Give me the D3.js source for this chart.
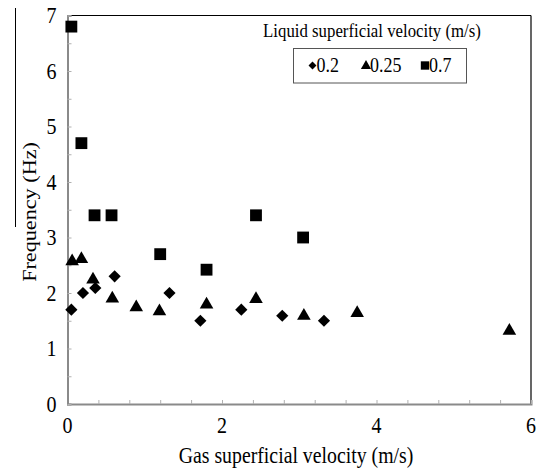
<!DOCTYPE html>
<html><head><meta charset="utf-8">
<script src="https://cdn.jsdelivr.net/npm/d3@7"></script>
<style>body{margin:0;background:#fff}svg{display:block}</style>
</head><body><div id="c"></div>
<script>
const seriesNames = ["0.2","0.25","0.7"];
const diamondX = [0.05,0.2,0.36,0.61,1.32,1.72,2.25,2.78,3.32];
const diamondY = [1.70,2.0,2.09,2.30,2.0,1.50,1.70,1.59,1.50];
const triangleX = [0.06,0.18,0.33,0.58,0.89,1.19,1.80,2.44,3.06,3.75,5.72];
const triangleY = [2.57,2.61,2.24,1.90,1.74,1.67,1.79,1.89,1.59,1.64,1.32];
const squareX = [0.05,0.18,0.35,0.57,1.2,1.8,2.44,3.05];
const squareY = [6.8,4.7,3.4,3.4,2.7,2.42,3.4,3.0];
const xTicks = [0,2,4,6];
const yTicks = [0,1,2,3,4,5,6,7];

const W=544,H=469;
const FONT="'Liberation Serif','Times New Roman',Times,'DejaVu Serif',serif";
const SY=1.12;
const m={l:67.5,r:531,t:15.5,b:404};
const svg=d3.select("#c").append("svg").attr("width",W).attr("height",H)
  .attr("font-family",FONT).style("font-family",FONT);
const x=d3.scaleLinear().domain([0,6]).range([m.l,m.r]);
const y=d3.scaleLinear().domain([0,7]).range([m.b,m.t]);

function txt(px,py,str,size,anchor,rot){
  const t=svg.append("text").attr("font-family",FONT).attr("font-size",size).attr("text-anchor",anchor||"start").attr("fill","#000").text(str);
  t.attr("transform",`translate(${px},${py})`+(rot?` rotate(${rot}) scale(${SY},1)`:` scale(1,${SY})`));
  return t;
}

// frame top/right black
svg.append("line").attr("x1",m.l).attr("x2",m.r).attr("y1",m.t).attr("y2",m.t).attr("stroke","#000").attr("stroke-width",1.2);
svg.append("line").attr("x1",m.r).attr("x2",m.r).attr("y1",m.t).attr("y2",m.b).attr("stroke","#000").attr("stroke-width",1.2);

// axes gray with inward minor ticks
const xa=svg.append("g").attr("transform",`translate(0,${m.b})`)
  .call(d3.axisTop(x).tickValues(d3.range(0,6.01,0.4)).tickSize(4).tickFormat(""));
const ya=svg.append("g").attr("transform",`translate(${m.l},0)`)
  .call(d3.axisRight(y).tickValues(d3.range(0,7.01,0.5)).tickSize(4).tickFormat(""));
[xa,ya].forEach(g=>{g.select(".domain").attr("stroke","#8a8a8a").attr("stroke-width",2);g.selectAll(".tick line").attr("stroke","#b0b0b0");});

// tick labels
xTicks.forEach(d=>txt(x(d),433,d,20,"middle"));
yTicks.forEach(d=>txt(56.5,y(d)+7.5,d,20,"end"));

// axis titles
txt(296,463,"Gas superficial velocity (m/s)",19.8,"middle");
txt(36,212,"Frequency (Hz)",19.8,"middle",-90);
svg.append("line").attr("x1",15.5).attr("x2",15.5).attr("y1",8).attr("y2",227).attr("stroke","#000").attr("stroke-width",1);

// markers
const sym={dia:d3.symbol().type(d3.symbolDiamond2).size(95),tri:d3.symbol().type(d3.symbolTriangle).size(80),sq:d3.symbol().type(d3.symbolSquare).size(140)};
const data=[
  {xs:diamondX,ys:diamondY,s:sym.dia},
  {xs:triangleX,ys:triangleY,s:sym.tri},
  {xs:squareX,ys:squareY,s:sym.sq}];
data.forEach(sr=>{
  svg.append("g").selectAll("path").data(sr.xs.map((v,i)=>[v,sr.ys[i]])).join("path")
    .attr("d",sr.s).attr("fill","#000").attr("transform",d=>`translate(${x(d[0])},${y(d[1])})`);
});

// legend
txt(372,37,"Liquid superficial velocity (m/s)",16.8,"middle");
svg.append("rect").attr("x",293.5).attr("y",48.5).attr("width",173).attr("height",34.5).attr("fill","#fff").attr("stroke","#555").attr("stroke-width",1);
const lsym=[d3.symbol().type(d3.symbolDiamond2).size(40),d3.symbol().type(d3.symbolTriangle).size(45),d3.symbol().type(d3.symbolSquare).size(70)];
const lx=[312.5,366,425];
seriesNames.forEach((n,i)=>{
  svg.append("path").attr("d",lsym[i]).attr("fill","#000").attr("transform",`translate(${lx[i]},${i==1?66:65.5})`);
  txt(lx[i]+4,71.5,n,18,"start");
});
</script></body></html>
